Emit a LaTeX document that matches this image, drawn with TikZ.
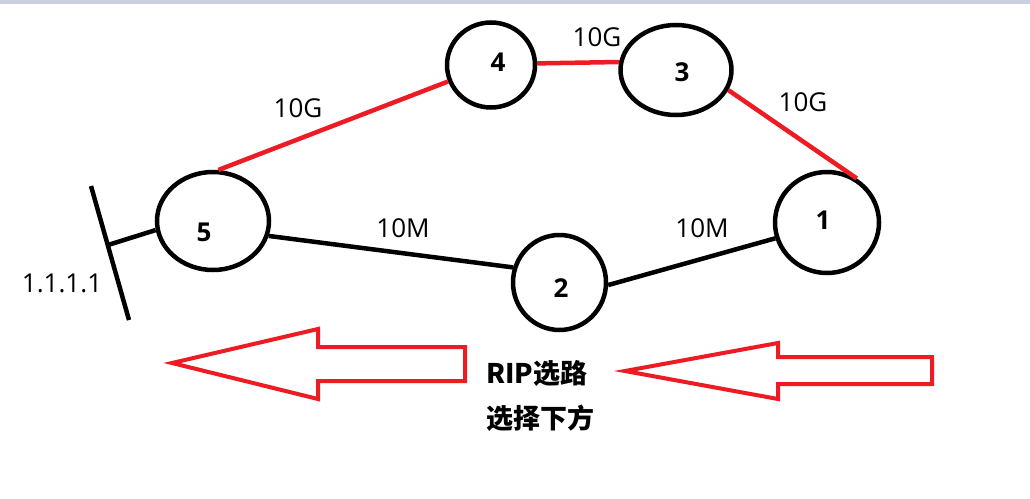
\documentclass[tikz,border=0pt]{standalone}
\usepackage{fontspec}
\setmainfont{Open Sans}
\newfontfamily\cjk{Noto Sans CJK SC}
\usetikzlibrary{shapes.geometric}
\definecolor{pred}{HTML}{ED1C24}
\definecolor{topbar}{HTML}{C8D0E0}
\begin{document}
\begin{tikzpicture}[x=1pt,y=-1pt,
  router/.style={ellipse, draw=black, line width=4.5pt, inner sep=0pt},
  num/.style={font=\fontsize{26}{30}\selectfont\bfseries, inner sep=0pt},
  lbl/.style={font=\fontsize{26}{30}\selectfont, inner sep=0pt},
  cjklbl/.style={font=\cjk\fontsize{27}{32}\selectfont\bfseries, inner sep=0pt, anchor=west},
  blk/.style={draw=black, line width=4.5pt},
  redlink/.style={draw=pred, line width=4.5pt},
  bigarrow/.style={draw=pred, line width=4pt, line join=miter}]
\useasboundingbox (0,0) rectangle (1030,498);
\fill[white] (0,0) rectangle (1030,498);
\fill[topbar] (0,0) rectangle (1030,4);

% routers
\node[router, minimum width=88pt, minimum height=85pt] (r4) at (491,65) {};
\node[router, minimum width=111pt, minimum height=90pt] (r3) at (676,70) {};
\node[router, minimum width=112pt, minimum height=98pt] (r5) at (213,221) {};
\node[router, minimum width=93pt, minimum height=95pt] (r2) at (559.5,282.5) {};
\node[router, minimum width=104pt, minimum height=101pt] (r1) at (827,222.5) {};

\node[num] (d4) at (498,62) {4};
\node[num] (d3) at (682,72) {3};
\node[num] (d5) at (204,232) {5};
\node[num] (d2) at (561,288) {2};
\node[num] (d1) at (823,220) {1};

% links
\draw[redlink] (r5.84) -- (r4.201);
\draw[redlink] (r4.2) -- (r3.172);
\draw[redlink] (r3.-21) -- (r1.56);
\draw[blk] (r5.-15) -- (r2.162);
\draw[blk] (r2.-3) -- (r1.197);

% network segment
\coordinate (barTop) at (91,186);
\coordinate (barBot) at (129,320);
\coordinate (barJoin) at (108,245);
\draw[blk] (barTop) -- (barBot);
\draw[blk] (barJoin) -- (r5.189);

% link labels
\node[lbl] (l54) at (298,108) {10G};
\node[lbl] (l43) at (597,37) {10G};
\node[lbl] (l31) at (803,102) {10G};
\node[lbl] (l52) at (403,228) {10M};
\node[lbl] (l21) at (702,228) {10M};
\node[lbl] (net) at (62,283) {1.1.1.1};

% big arrows
\draw[bigarrow] (172,363) -- (318,329) -- (318,347) -- (465,347) -- (465,381) -- (318,381) -- (318,399) -- cycle;
\draw[bigarrow] (625,371) -- (778,343) -- (778,357) -- (932,357) -- (932,384) -- (778,384) -- (778,399) -- cycle;

% caption
\node[cjklbl] (c1) at (486,373) {RIP选路};
\node[cjklbl] (c2) at (486,418) {选择下方};
\end{tikzpicture}
\end{document}
